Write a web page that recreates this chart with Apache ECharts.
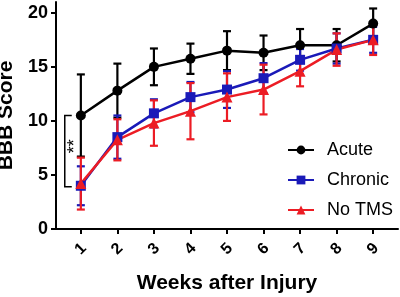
<!DOCTYPE html>
<html>
<head>
<meta charset="utf-8">
<script src="https://cdn.jsdelivr.net/npm/echarts@6/dist/echarts.min.js"></script>
<style>
  html, body { margin: 0; padding: 0; background: #fff; }
  #chart { width: 400px; height: 297px; }
</style>
</head>
<body>
<div id="chart"></div>
<script>
// weeks after injury
var weeks = [1, 2, 3, 4, 5, 6, 7, 8, 9];
var yTicks = [0, 5, 10, 15, 20];

// BBB score, mean and error per group
var acuteMean = [10.5, 12.8, 15.0, 15.75, 16.5, 16.3, 17.0, 17.0, 19.0];
var acuteErr = [3.8, 2.5, 1.7, 1.4, 1.8, 1.6, 1.5, 1.5, 1.4];
var chronicMean = [4.0, 8.5, 10.7, 12.2, 12.9, 13.95, 15.65, 16.7, 17.5];
var chronicErr = [1.8, 2.0, 1.3, 1.4, 1.7, 1.4, 1.0, 1.4, 1.2];
var noTmsMean = [4.2, 8.25, 9.8, 10.9, 12.2, 12.9, 14.6, 16.6, 17.5];
var noTmsErr = [2.4, 1.9, 2.1, 2.6, 2.2, 2.3, 1.4, 1.5, 1.4];

// significance bracket at week 1
var bracketX = [0.56];
var bracketRange = [10.5, 3.9];
var bracketLabel = ['**'];

var FONT = 'Liberation Sans, Arial, sans-serif';

function pts(mean) {
  return weeks.map(function (w, i) { return [w, mean[i]]; });
}
function errData(mean, err) {
  return weeks.map(function (w, i) { return [w, mean[i] - err[i], mean[i] + err[i]]; });
}

function errSeries(name, mean, err, color) {
  return {
    name: name + ' SEM',
    type: 'custom',
    data: errData(mean, err),
    renderItem: function (params, api) {
      var x = api.value(0);
      var lo = api.coord([x, api.value(1)]);
      var hi = api.coord([x, api.value(2)]);
      var w = 4;
      var st = { stroke: color, lineWidth: 2.2 };
      return {
        type: 'group',
        children: [
          { type: 'line', shape: { x1: lo[0], y1: lo[1], x2: hi[0], y2: hi[1] }, style: st },
          { type: 'line', shape: { x1: lo[0] - w, y1: lo[1], x2: lo[0] + w, y2: lo[1] }, style: st },
          { type: 'line', shape: { x1: hi[0] - w, y1: hi[1], x2: hi[0] + w, y2: hi[1] }, style: st }
        ]
      };
    },
    silent: true
  };
}

function lineSeries(name, mean, color, symbol, size) {
  return {
    name: name,
    type: 'line',
    data: pts(mean),
    symbol: symbol,
    symbolSize: size,
    showAllSymbol: true,
    lineStyle: { color: color, width: 2.5 },
    itemStyle: { color: color },
    animation: false
  };
}

var chart = echarts.init(document.getElementById('chart'));
chart.setOption({
  animation: false,
  grid: { left: 56, right: 2, top: 2, bottom: 68, outerBoundsMode: 'none', containLabel: false },
  legend: {
    orient: 'vertical',
    left: 287,
    top: 141,
    padding: 0,
    itemWidth: 26,
    itemHeight: 11,
    itemGap: 12,
    data: ['Acute', 'Chronic', 'No TMS'],
    textStyle: { fontFamily: FONT, fontSize: 18, color: '#000', padding: [0, 0, 0, 8] }
  },
  xAxis: {
    type: 'value',
    min: 0.32,
    max: 9.68,
    name: 'Weeks after Injury',
    nameLocation: 'middle',
    nameGap: 44,
    nameTextStyle: { fontFamily: FONT, fontSize: 21, fontWeight: 'bold', color: '#000' },
    splitLine: { show: false },
    axisLine: { lineStyle: { color: '#000', width: 2 } },
    axisTick: { customValues: weeks, length: 5, lineStyle: { color: '#000', width: 2 } },
    axisLabel: {
      customValues: weeks,
      rotate: 45,
      align: 'center',
      verticalAlign: 'middle',
      margin: 20,
      fontFamily: FONT, fontSize: 16, fontWeight: 'bold', color: '#000'
    }
  },
  yAxis: {
    type: 'value',
    min: 0,
    max: 21,
    name: 'BBB Score',
    nameLocation: 'middle',
    nameGap: 34,
    nameTextStyle: { fontFamily: FONT, fontSize: 21, fontWeight: 'bold', color: '#000' },
    splitLine: { show: false },
    axisLine: { show: true, lineStyle: { color: '#000', width: 2 } },
    axisTick: { show: true, customValues: yTicks, length: 5, lineStyle: { color: '#000', width: 2 } },
    axisLabel: {
      customValues: yTicks,
      margin: 8,
      fontFamily: FONT, fontSize: 18, fontWeight: 'bold', color: '#000'
    }
  },
  series: [
    {
      type: 'custom',
      name: 'bracket',
      data: [[bracketX[0], bracketRange[0], bracketRange[1]]],
      renderItem: function (params, api) {
        var top = api.coord([api.value(0), api.value(1)]);
        var bot = api.coord([api.value(0), api.value(2)]);
        var st = { stroke: '#000', lineWidth: 1.5, fill: null };
        return {
          type: 'group',
          children: [
            { type: 'polyline', shape: { points: [[top[0] + 7, top[1]], [top[0], top[1]], [bot[0], bot[1]], [bot[0] + 7, bot[1]]] }, style: st },
            {
              type: 'text',
              x: top[0] + 10, y: (top[1] + bot[1]) / 2 - 5,
              rotation: Math.PI / 2,
              style: { text: bracketLabel[0], fontFamily: FONT, fontSize: 18, fill: '#000', align: 'center', verticalAlign: 'middle' }
            }
          ]
        };
      },
      silent: true
    },
    errSeries('Acute', acuteMean, acuteErr, '#000000'),
    lineSeries('Acute', acuteMean, '#000000', 'circle', 10),
    errSeries('Chronic', chronicMean, chronicErr, '#1a1ab8'),
    lineSeries('Chronic', chronicMean, '#1a1ab8', 'rect', 10),
    errSeries('No TMS', noTmsMean, noTmsErr, '#ec1c24'),
    lineSeries('No TMS', noTmsMean, '#ec1c24', 'triangle', 11)
  ]
});
</script>
</body>
</html>
